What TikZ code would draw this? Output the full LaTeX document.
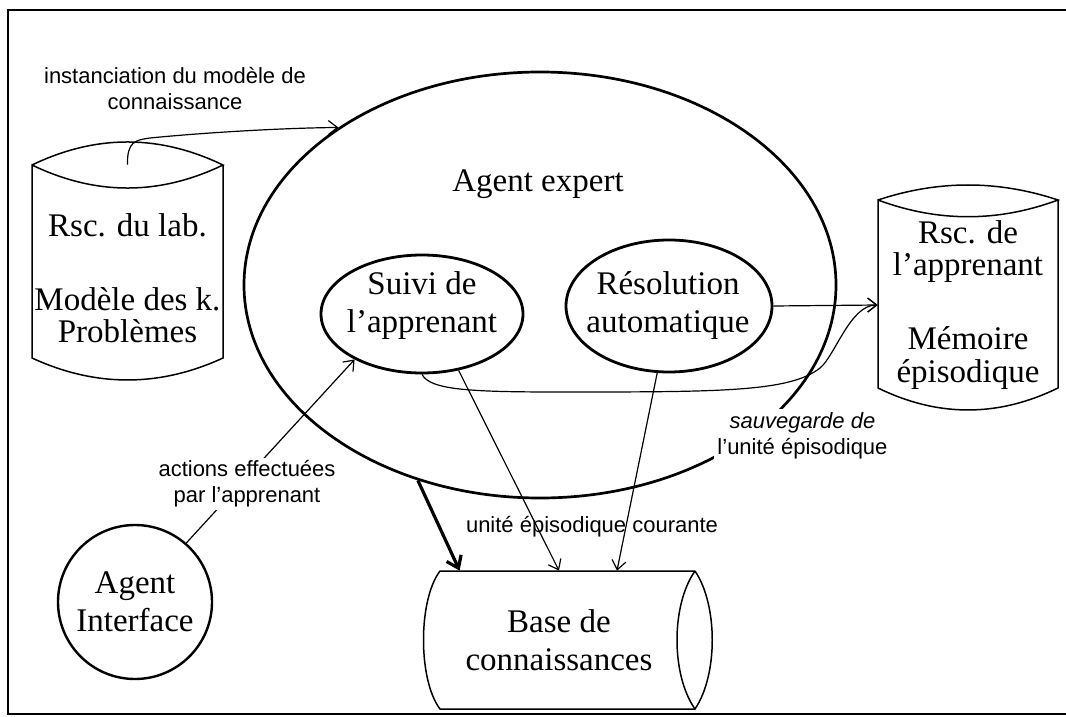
\documentclass[tikz,border=0pt]{standalone}
\usepackage{fontspec}
\setmainfont{Liberation Serif}
\newfontfamily\diaglabelfamily{Liberation Sans}
\usetikzlibrary{arrows.meta,shapes.geometric}

\newcommand\diagserif{\fontsize{16.5}{19}\selectfont}
\newcommand\diagcyl{\fontsize{16.5}{16.25}\selectfont}
\newcommand\diagsans{\diaglabelfamily\fontsize{11}{13}\selectfont}

\tikzset{
  frameline/.style={line width=1pt},
  bigell/.style={ellipse, draw, line width=1.35pt, inner sep=0pt},
  agentell/.style={ellipse, draw, line width=1.4pt, inner sep=0pt},
  agentcirc/.style={circle, draw, line width=1.2pt, inner sep=0pt, align=center, font=\diagserif},
  cylbody/.style={inner sep=0pt, align=center, font=\diagcyl},
  cylline/.style={line width=0.75pt},
  serif/.style={align=center, font=\diagserif, inner sep=0pt},
  lbl/.style={align=center, font=\diagsans, inner sep=1.5pt},
  link/.style={line width=0.6pt, -{Straight Barb[length=4.5pt,width=7pt]}},
  boldlink/.style={line width=1.6pt, -{Straight Barb[length=5.5pt,width=8pt]}},
}

\begin{document}
\begin{tikzpicture}[x=0.5pt,y=-0.5pt]
\useasboundingbox (0,0) rectangle (1066,717);

% open frame
\draw[frameline] (1066,10) -- (8,10) -- (8,714) -- (1066,714);

% expert agent and its two modules
\node[bigell, minimum width=296pt, minimum height=213pt] (expert) at (540,285) {};
\node[serif] (experttxt) at (538,184.5) {Agent expert};
\node[agentell, minimum width=101pt, minimum height=59pt] (suivi) at (422,314) {};
\node[serif] (suivitxt) at (422,306) {Suivi de\\l’apprenant};
\node[agentell, minimum width=103pt, minimum height=66pt] (resol) at (669,306) {};
\node[serif] (resoltxt) at (668,306) {Résolution\\automatique};

% interface agent
\node[agentcirc, minimum size=77pt] (iface) at (135,602) {Agent\\Interface};

% laboratory resources (vertical cylinder)
\draw[cylline] (32,165) .. controls (95.7,134.3) and (159.3,134.3) .. (223,165)
  .. controls (159.3,195.7) and (95.7,195.7) .. (32,165) -- (32,358)
  .. controls (95.7,387.3) and (159.3,387.3) .. (223,358) -- (223,165);
\node[cylbody, minimum width=95.5pt, minimum height=113pt] (labdb) at (127.5,278)
  {Rsc. du lab.\\[20.75pt]Modèle des k.\\Problèmes};

% learner resources (vertical cylinder)
\draw[cylline] (878,200) .. controls (938,180) and (998,180) .. (1058,200)
  .. controls (998,222.3) and (938,222.3) .. (878,200) -- (878,388)
  .. controls (938,417.3) and (998,417.3) .. (1058,388) -- (1058,200);
\node[cylbody, minimum width=90pt, minimum height=105pt] (learner) at (968,305)
  {Rsc. de\\l’apprenant\\[20.75pt]Mémoire\\épisodique};

% knowledge base (horizontal cylinder)
\draw[cylline] (695,571) -- (440,571) .. controls (418,600) and (418,680) .. (440,709) -- (695,709);
\draw[cylline] (695,571) .. controls (671,605) and (671,675) .. (695,709)
  .. controls (718,675) and (718,605) .. (695,571);
\node[serif, minimum width=136pt, minimum height=69pt] (kb) at (559,640) {Base de\\connaissances};

% connectors
\draw[link] (labdb.north) .. controls (127,142) and (135,140) .. (150,138)
  .. controls (200,133) and (280,128) .. (expert.142);
\draw[link] (iface.49) -- (suivi.214);
\draw[link] (suivi.303) -- (kb.north);
\draw[link] (resol.260) -- ([xshift=29pt]kb.north);
\draw[link] (resol.east) -- (learner.west);
\draw[link] (suivi.south) .. controls (430,390) and (470,392) .. (560,392)
  .. controls (720,392) and (790,392) .. (820,368)
  .. controls (835,356) and (850,305) .. (learner.west);
\draw[boldlink] (expert.238) -- ([xshift=18.5pt]kb.north west);

% connector labels
\node[lbl] (instlbl) at (175,89) {instanciation du modèle de\\connaissance};
\node[lbl, fill=white] (actlbl) at (247,484) {actions effectuées\\par l’apprenant};
\node[lbl, fill=white] (savelbl) at (802.5,435.5) {{\itshape sauvegarde de}\\l’unité épisodique};
\node[lbl] (curlbl) at (592,527) {unité épisodique courante};
\end{tikzpicture}
\end{document}
